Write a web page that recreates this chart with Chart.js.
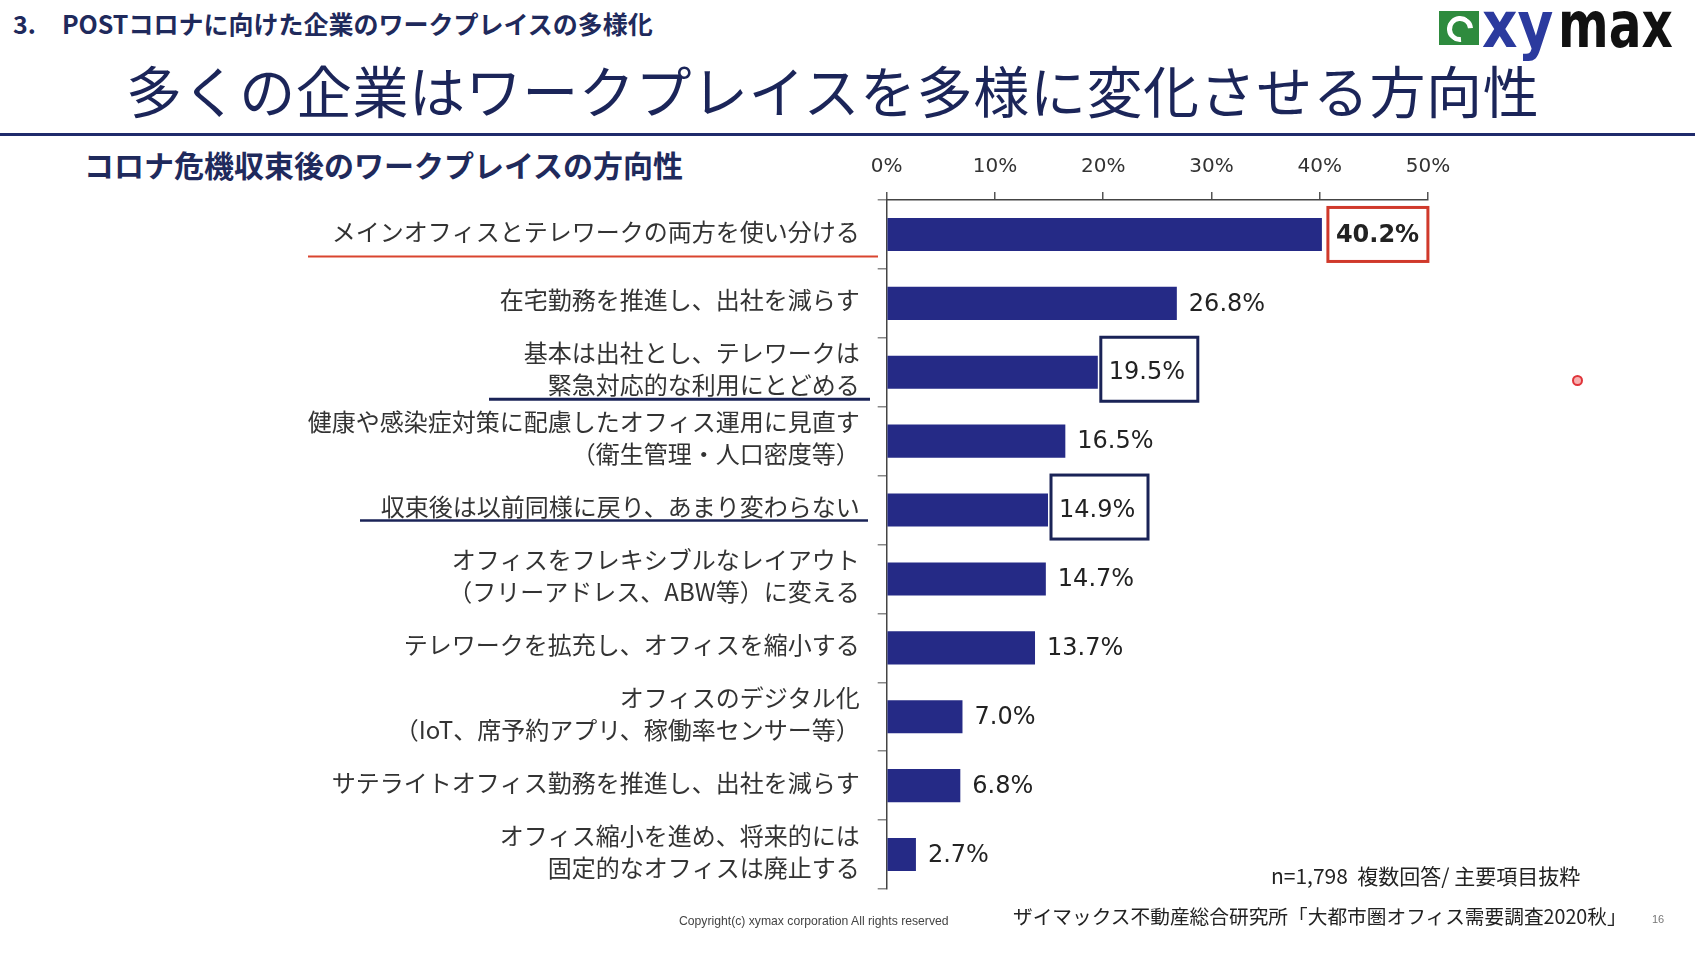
<!DOCTYPE html>
<html>
<head>
<meta charset="utf-8">
<script src="https://cdn.jsdelivr.net/npm/chart.js@4.4.1/dist/chart.umd.min.js"></script>
<style>
  html, body { margin: 0; padding: 0; background: #fff; }
  body { width: 1695px; height: 979px; position: relative; overflow: hidden; font-family: 'Noto Sans CJK JP', sans-serif; }
  #myChart { position: absolute; left: 0; top: 0; }
  .t { position: absolute; white-space: nowrap; }
  #sec { left: 13px; top: 11px; font-size: 25px; line-height: 25px; font-weight: bold; color: #1f2a5c; }
  #sec span { margin-left: 26px; }
  #title { left: 126px; top: 61px; font-size: 56px; line-height: 56px; letter-spacing: 0.6px; color: #1b2559; }
  #rule { position: absolute; left: 0; top: 133px; width: 1695px; height: 3px; background: #1f2a6b; }
  #sub { left: 84px; top: 149px; font-size: 30px; line-height: 30px; font-weight: bold; color: #1f2a5c; }
  #note { left: 1271px; top: 865px; font-size: 21px; line-height: 21px; color: #222; }
  #src { left: 1013px; top: 906px; font-size: 19.7px; line-height: 20px; color: #222; }
  #copy { left: 679px; top: 915px; font-size: 12.2px; line-height: 12px; color: #444; font-family: 'Liberation Sans', sans-serif; }
  #page { left: 1652px; top: 914px; font-size: 11px; line-height: 11px; color: #777; font-family: 'Liberation Sans', sans-serif; }
  #logoMark { position: absolute; left: 1439px; top: 11px; width: 40px; height: 34px; background: #2e8b3e; }
  #logoMark div { position: absolute; left: 8px; top: 5px; width: 16px; height: 16px; border: 5px solid #fff; border-radius: 50%; border-right-color: transparent; transform: rotate(40deg); }
  #logoXy { left: 1482px; top: -7px; font-family: 'DejaVu Sans', sans-serif; font-weight: bold; font-size: 64px; line-height: 64px; color: #2b3a9e; transform: scaleX(0.86); transform-origin: left top; }
  #logoMax { left: 1558px; top: -7px; font-family: 'DejaVu Sans', sans-serif; font-weight: bold; font-size: 64px; line-height: 64px; color: #111; transform: scaleX(0.76); transform-origin: left top; }
  #dot { position: absolute; left: 1572px; top: 375px; width: 7px; height: 7px; border: 2px solid #e0343a; border-radius: 50%; background: #f7b0b0; }
</style>
</head>
<body>
<div class="t" id="sec">3.<span>POSTコロナに向けた企業のワークプレイスの多様化</span></div>
<div class="t" id="title">多くの企業はワークプレイスを多様に変化させる方向性</div>
<div id="rule"></div>
<div class="t" id="sub">コロナ危機収束後のワークプレイスの方向性</div>
<div id="logoMark"><div></div></div>
<div class="t" id="logoXy">xy</div>
<div class="t" id="logoMax">max</div>
<div id="dot"></div>
<canvas id="myChart" width="1695" height="979"></canvas>
<div class="t" id="note">n=1,798&nbsp;&nbsp;複数回答/ 主要項目抜粋</div>
<div class="t" id="src">ザイマックス不動産総合研究所「大都市圏オフィス需要調査2020秋」</div>
<div class="t" id="copy">Copyright(c) xymax corporation All rights reserved</div>
<div class="t" id="page">16</div>

<script>
let categories = [
  'メインオフィスとテレワークの両方を使い分ける',
  '在宅勤務を推進し、出社を減らす',
  ['基本は出社とし、テレワークは', '緊急対応的な利用にとどめる'],
  ['健康や感染症対策に配慮したオフィス運用に見直す', '（衛生管理・人口密度等）'],
  '収束後は以前同様に戻り、あまり変わらない',
  ['オフィスをフレキシブルなレイアウト', '（フリーアドレス、ABW等）に変える'],
  'テレワークを拡充し、オフィスを縮小する',
  ['オフィスのデジタル化', '（IoT、席予約アプリ、稼働率センサー等）'],
  'サテライトオフィス勤務を推進し、出社を減らす',
  ['オフィス縮小を進め、将来的には', '固定的なオフィスは廃止する']
]
let values = [40.2, 26.8, 19.5, 16.5, 14.9, 14.7, 13.7, 7.0, 6.8, 2.7]
let redBoxed = [0]
let navyBoxed = [2, 4]

const ctx = document.getElementById('myChart');

// value labels, boxes and underlines under some category names
const annotate = {
  id: 'annotate',
  afterDatasetsDraw(chart) {
    const c = chart.ctx
    const meta = chart.getDatasetMeta(0)
    const yScale = chart.scales.y

    const lines = [
      { i: 0, color: '#d9452f', x1: 308, x2: 878, dy: 22, w: 2 },
      { i: 2, color: '#1a2357', x1: 489, x2: 870, dy: 27, w: 3 },
      { i: 4, color: '#1a2357', x1: 360, x2: 868, dy: 10.5, w: 2.5 }
    ]
    lines.forEach(l => {
      const y = yScale.getPixelForValue(l.i) + l.dy
      c.save()
      c.strokeStyle = l.color
      c.lineWidth = l.w
      c.beginPath()
      c.moveTo(l.x1, y)
      c.lineTo(l.x2, y)
      c.stroke()
      c.restore()
    })

    meta.data.forEach((bar, i) => {
      const txt = values[i].toFixed(1) + '%'
      c.save()
      c.textBaseline = 'middle'
      c.fillStyle = '#222'
      if (redBoxed.includes(i)) {
        c.strokeStyle = '#d0392b'
        c.lineWidth = 3
        c.strokeRect(bar.x + 6, bar.y - 27, 100, 54)
        c.font = 'bold 24px "DejaVu Sans"'
        c.fillText(txt, bar.x + 14, bar.y + 1)
      } else if (navyBoxed.includes(i)) {
        c.strokeStyle = '#1a2357'
        c.lineWidth = 3
        c.strokeRect(bar.x + 3, bar.y - 35, 97, 64)
        c.font = '24px "DejaVu Sans"'
        c.fillText(txt, bar.x + 11, bar.y + 1)
      } else {
        c.font = '24px "DejaVu Sans"'
        c.fillText(txt, bar.x + 12, bar.y + 1)
      }
      c.restore()
    })
  }
}

function createChart() {
  new Chart(ctx, {
    type: 'bar',
    data: {
      labels: categories,
      datasets: [{
        data: values,
        backgroundColor: '#252a86',
        barPercentage: 0.48,
        categoryPercentage: 1
      }]
    },
    options: {
      indexAxis: 'y',
      responsive: false,
      animation: false,
      layout: { padding: { left: 0, right: 267, top: 0, bottom: 90 } },
      plugins: {
        legend: { display: false },
        tooltip: { enabled: false }
      },
      scales: {
        x: {
          position: 'top',
          min: 0,
          max: 50,
          ticks: {
            stepSize: 10,
            callback: v => v + '%',
            font: { family: 'DejaVu Sans', size: 20 },
            color: '#333',
            padding: 13
          },
          grid: { drawOnChartArea: false, tickLength: 8, color: '#555', lineWidth: 1.5 },
          border: { color: '#444', width: 1.5 },
          afterFit: s => { s.height = 200 }
        },
        y: {
          ticks: {
            font: { family: 'Noto Sans CJK JP', size: 24, lineHeight: 1.33 },
            color: '#333',
            padding: 18,
            labelOffset: -3,
            autoSkip: false
          },
          grid: { offset: true, drawOnChartArea: false, tickLength: 9, color: '#888', lineWidth: 1.5 },
          border: { color: '#444', width: 1.5 },
          afterFit: s => { s.width = 886.7 }
        }
      }
    },
    plugins: [annotate]
  });
}

createChart()
</script>
</body>
</html>
